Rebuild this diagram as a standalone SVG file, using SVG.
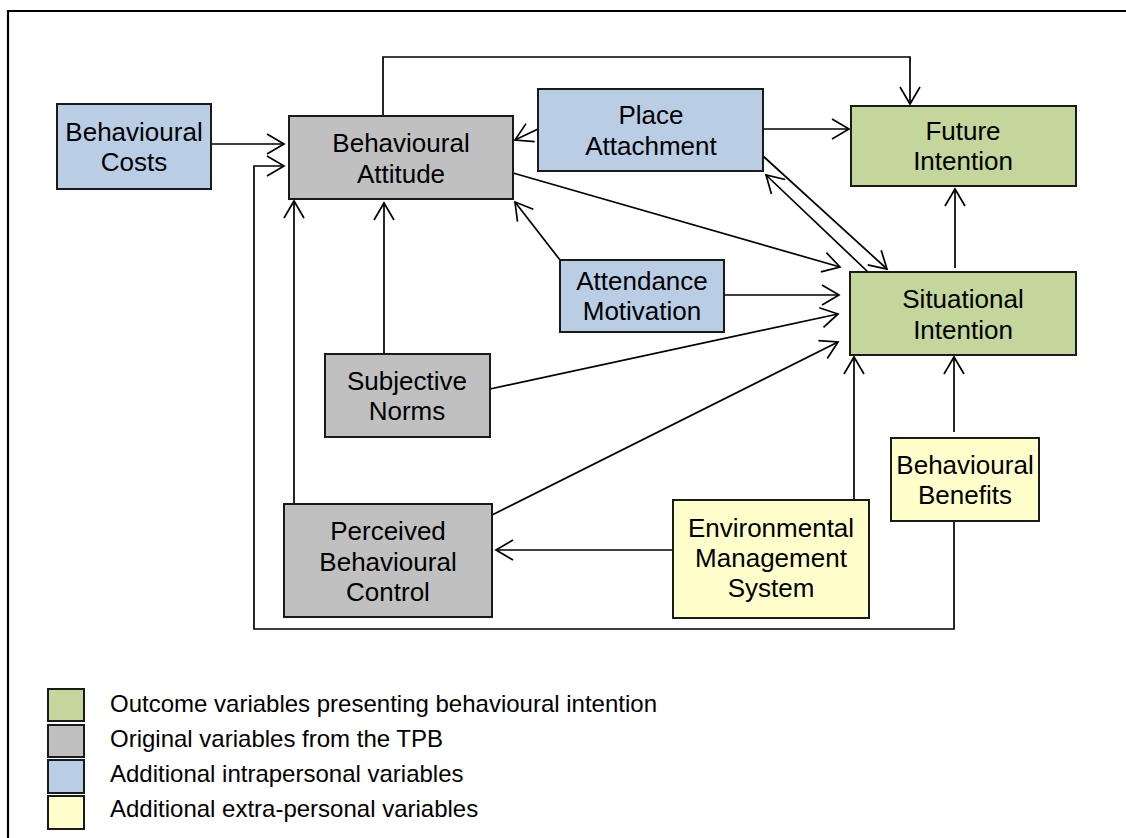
<svg xmlns="http://www.w3.org/2000/svg" width="1126" height="838" viewBox="0 0 1126 838">
  <style>
    .box { stroke: #1a1a1a; stroke-width: 2; }
    .blue { fill: #b9cde5; }
    .gray { fill: #c0c0c0; }
    .green { fill: #c3d69b; }
    .yellow { fill: #ffffcc; }
    .lbl { font-family: "Liberation Sans", Arial, sans-serif; font-size: 26px; fill: #000; text-anchor: middle; }
    .leg { font-family: "Liberation Sans", Arial, sans-serif; font-size: 24px; fill: #000; }
    .con { fill: none; stroke: #000; stroke-width: 1.7; marker-end: url(#arr); }
  </style>
  <defs>
    <marker id="arr" markerWidth="22" markerHeight="24" refX="18" refY="11" orient="auto" markerUnits="userSpaceOnUse" overflow="visible">
      <path d="M1,1 L18,11 L1,21" fill="none" stroke="#000" stroke-width="1.7"/>
    </marker>
  </defs>

  <rect width="1126" height="838" fill="#fff"/>
  <!-- outer frame -->
  <path d="M8,838 V11 H1126" fill="none" stroke="#000" stroke-width="2.2"/>

  <!-- connectors -->
  <g id="connectors">
    <path class="con" d="M211,144 H284"/>
    <path class="con" d="M954,521 V629 H254 V166 H284"/>
    <path class="con" d="M383,116 V57 H910 V104"/>
    <path class="con" d="M538,129 L515,140"/>
    <path class="con" d="M763,129 H849"/>
    <path class="con" d="M763,156 L887,269"/>
    <path class="con" d="M868,272 L766,175"/>
    <path class="con" d="M513,173 L840,267"/>
    <path class="con" d="M560,260 L515,202"/>
    <path class="con" d="M724,295 H839"/>
    <path class="con" d="M384,354 V203"/>
    <path class="con" d="M490,389 L838,314"/>
    <path class="con" d="M294,504 V201"/>
    <path class="con" d="M492,515 L838,342"/>
    <path class="con" d="M673,550 H496"/>
    <path class="con" d="M854,500 V357"/>
    <path class="con" d="M954,432 V357"/>
    <path class="con" d="M955,268 V189"/>
  </g>

  <!-- nodes -->
  <g id="behavioural-costs">
    <rect class="box blue" x="57" y="104" width="154" height="85"/>
    <text class="lbl" x="134" y="141">Behavioural</text>
    <text class="lbl" x="134" y="171">Costs</text>
  </g>
  <g id="behavioural-attitude">
    <rect class="box gray" x="289" y="116" width="224" height="83"/>
    <text class="lbl" x="401" y="152">Behavioural</text>
    <text class="lbl" x="401" y="183">Attitude</text>
  </g>
  <g id="place-attachment">
    <rect class="box blue" x="538" y="89" width="225" height="82"/>
    <text class="lbl" x="651" y="124">Place</text>
    <text class="lbl" x="651" y="155">Attachment</text>
  </g>
  <g id="future-intention">
    <rect class="box green" x="851" y="106" width="225" height="80"/>
    <text class="lbl" x="963" y="140">Future</text>
    <text class="lbl" x="963" y="170">Intention</text>
  </g>
  <g id="attendance-motivation">
    <rect class="box blue" x="560" y="260" width="164" height="72"/>
    <text class="lbl" x="642" y="290">Attendance</text>
    <text class="lbl" x="642" y="320">Motivation</text>
  </g>
  <g id="situational-intention">
    <rect class="box green" x="850" y="272" width="226" height="83"/>
    <text class="lbl" x="963" y="308">Situational</text>
    <text class="lbl" x="963" y="339">Intention</text>
  </g>
  <g id="subjective-norms">
    <rect class="box gray" x="325" y="354" width="165" height="83"/>
    <text class="lbl" x="407" y="390">Subjective</text>
    <text class="lbl" x="407" y="420">Norms</text>
  </g>
  <g id="perceived-behavioural-control">
    <rect class="box gray" x="284" y="504" width="208" height="113"/>
    <text class="lbl" x="388" y="540">Perceived</text>
    <text class="lbl" x="388" y="571">Behavioural</text>
    <text class="lbl" x="388" y="601">Control</text>
  </g>
  <g id="environmental-management-system">
    <rect class="box yellow" x="673" y="500" width="196" height="118"/>
    <text class="lbl" x="771" y="537">Environmental</text>
    <text class="lbl" x="771" y="567">Management</text>
    <text class="lbl" x="771" y="597">System</text>
  </g>
  <g id="behavioural-benefits">
    <rect class="box yellow" x="891" y="438" width="148" height="83"/>
    <text class="lbl" x="965" y="474">Behavioural</text>
    <text class="lbl" x="965" y="504">Benefits</text>
  </g>

  <!-- legend -->
  <g id="legend">
    <rect class="box green" x="48" y="689" width="36" height="32"/>
    <rect class="box gray" x="48" y="725" width="36" height="32"/>
    <rect class="box blue" x="48" y="760" width="36" height="33"/>
    <rect class="box yellow" x="48" y="796" width="36" height="33"/>
    <text class="leg" x="110" y="712">Outcome variables presenting behavioural intention</text>
    <text class="leg" x="110" y="747">Original variables from the TPB</text>
    <text class="leg" x="110" y="782">Additional intrapersonal variables</text>
    <text class="leg" x="110" y="817">Additional extra-personal variables</text>
  </g>
</svg>
